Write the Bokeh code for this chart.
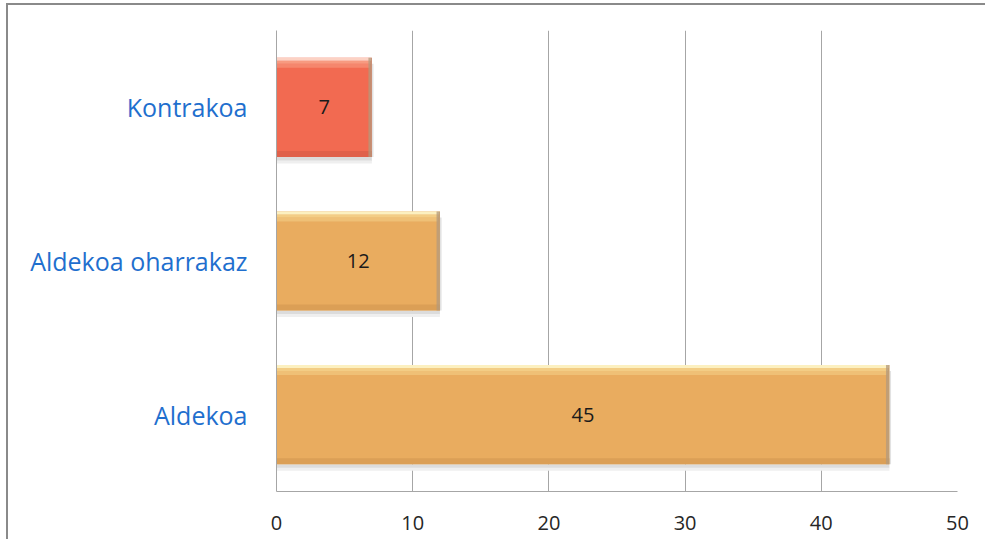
from bokeh.plotting import figure
from bokeh.models import FactorRange, Range1d, ColumnDataSource, FixedTicker, LabelSet
from bokeh.transform import dodge
from bokeh.core.properties import value
from bokeh.embed import file_html
from bokeh.resources import INLINE

categories = ["Aldekoa", "Aldekoa oharrakaz", "Kontrakoa"]
counts = [45, 12, 7]
bar_colors = ["#E9AC5F", "#E9AC5F", "#F26A51"]
light_colors = ["#F3CD85", "#F3CD85", "#F79A80"]
pale_colors = ["#FCF0C0", "#FCF0C0", "#FCD2C4"]
edge_colors = ["#D49A52", "#D49A52", "#D95E48"]
x_ticks = [0, 10, 20, 30, 40, 50]

src = ColumnDataSource(dict(cat=categories, val=counts, col=bar_colors, edge=edge_colors,
                            light=light_colors, pale=pale_colors,
                            half=[v / 2 for v in counts], lab=[str(v) for v in counts]))

p = figure(y_range=FactorRange(*categories), x_range=Range1d(0, 50),
           frame_width=681, frame_height=461,
           min_border_left=268, min_border_right=28, min_border_top=25, min_border_bottom=48,
           output_backend="svg", toolbar_location=None)
p.styles = {"border-left": "2px solid #8a8a8a", "border-top": "2px solid #8a8a8a",
            "margin-left": "6px", "margin-top": "3px"}

BH = 0.645
U = 1 / 153.7  # one pixel in category units
yr = p.y_range
# soft shadow below and right
p.hbar(y=dodge("cat", -BH / 2 - 2 * U, range=yr), left=0, right="val", height=4 * U,
       source=src, fill_color="#dcdcdc", line_color=None)
p.hbar(y=dodge("cat", -BH / 2 - 5 * U, range=yr), left=0, right="val", height=3 * U,
       source=src, fill_color="#efefef", line_color=None)
p.hbar(y=dodge("cat", -3 * U, range=yr), left="val", right=dodge("val", 0.12), height=BH - 6 * U,
       source=src, fill_color="#e2e2e2", line_color=None)
# main bar
p.hbar(y="cat", left=0, right="val", height=BH, source=src,
       fill_color="col", line_color=None)
# top highlight gradient
p.hbar(y=dodge("cat", BH / 2 - 8 * U, range=yr), left=0, right=dodge("val", -0.15), height=4 * U,
       source=src, fill_color="light", line_color=None, fill_alpha=0.6)
p.hbar(y=dodge("cat", BH / 2 - 4.5 * U, range=yr), left=0, right=dodge("val", -0.1), height=3 * U,
       source=src, fill_color="light", line_color=None)
p.hbar(y=dodge("cat", BH / 2 - 1.5 * U, range=yr), left=0, right=dodge("val", -0.05), height=3 * U,
       source=src, fill_color="pale", line_color=None)
# bottom darker edge
p.hbar(y=dodge("cat", -BH / 2 + 3 * U, range=yr), left=0, right="val", height=6 * U,
       source=src, fill_color="edge", line_color=None, fill_alpha=0.7)
# right darker edge
p.hbar(y="cat", left=dodge("val", -0.25), right="val", height=BH,
       source=src, fill_color="#B39A7C", line_color=None, fill_alpha=0.75)

labels = LabelSet(x="half", y="cat", text="lab", source=src, text_align="center",
                  text_baseline="middle", text_font=value("Open Sans"), text_font_size="20px",
                  text_color="#1a1a1a")
p.add_layout(labels)

p.outline_line_color = None
p.ygrid.grid_line_color = None
p.xgrid.grid_line_color = "#a6a6a6"
p.xgrid.grid_line_width = 1
p.xaxis.ticker = FixedTicker(ticks=x_ticks)
p.xaxis.axis_line_color = "#a6a6a6"
p.yaxis.axis_line_color = "#a6a6a6"
p.xaxis.major_tick_line_color = None
p.xaxis.minor_tick_line_color = None
p.yaxis.major_tick_line_color = None
p.yaxis.minor_tick_line_color = None
p.xaxis.major_label_text_font = "Open Sans"
p.xaxis.major_label_text_font_size = "20px"
p.xaxis.major_label_text_color = "#262626"
p.xaxis.major_label_standoff = 18
p.yaxis.major_label_text_font = "Open Sans"
p.yaxis.major_label_text_font_size = "25px"
p.yaxis.major_label_text_color = "#1F6FCE"
p.yaxis.major_label_standoff = 23
p.y_range.range_padding = 0
p.y_range.group_padding = 0

open("out.html", "w").write(file_html(p, INLINE))
